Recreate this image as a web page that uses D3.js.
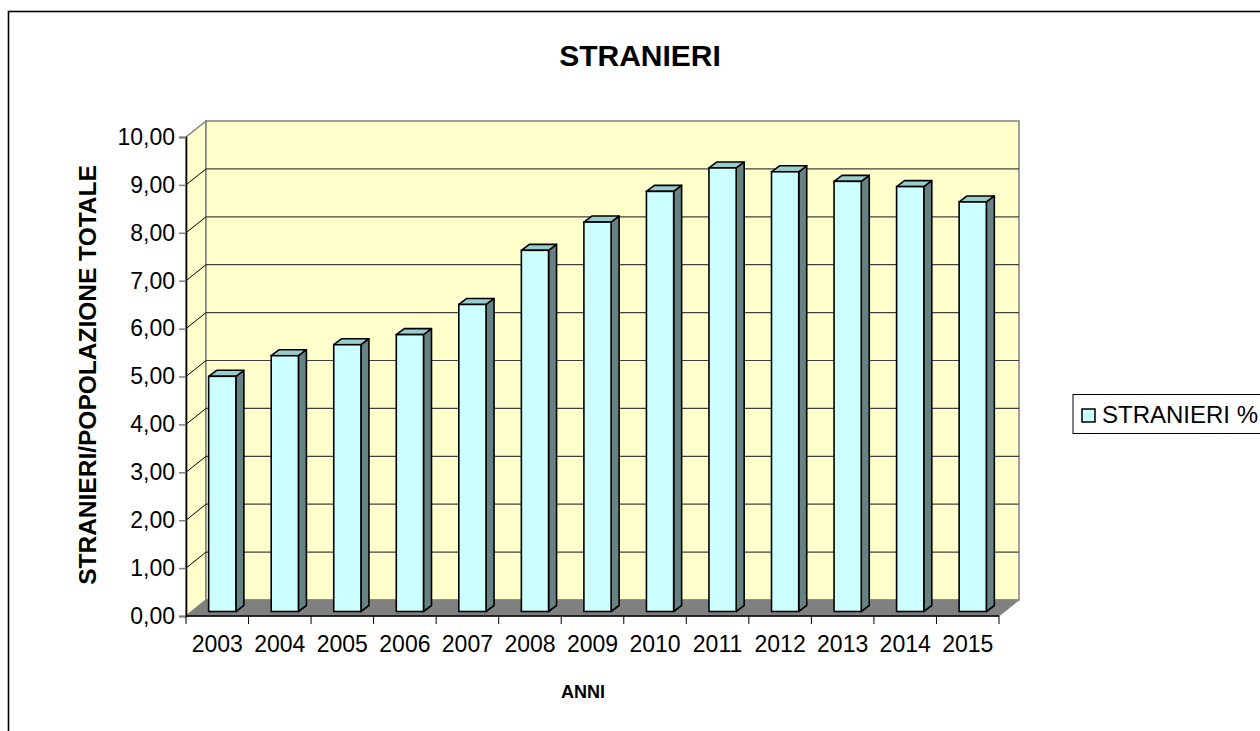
<!DOCTYPE html>
<html>
<head>
<meta charset="utf-8">
<script src="https://cdn.jsdelivr.net/npm/d3@7"></script>
<style>
  body { margin: 0; background: #fff; }
  svg { display: block; font-family: "Liberation Sans", Arial, sans-serif; }
</style>
</head>
<body>
<svg id="chart" width="1260" height="731"></svg>
<script>
// data
var years = ["2003", "2004", "2005", "2006", "2007", "2008", "2009", "2010", "2011", "2012", "2013", "2014", "2015"];
var stranieri = [4.91, 5.34, 5.57, 5.78, 6.41, 7.54, 8.13, 8.77, 9.26, 9.18, 8.98, 8.87, 8.55];
var yTicks = [0, 1, 2, 3, 4, 5, 6, 7, 8, 9, 10];

var svg = d3.select("#chart");

// 3d offsets (wall depth, bar front / back position in depth)
var depth = { dx: 20, dy: -16 };
var barFront = { dx: 5, dy: -4.5 };
var barBack = { dx: 13, dy: -10.5 };

var x = d3.scaleBand().domain(years).range([186, 999]).paddingInner(0.565).paddingOuter(0.2825);
var y = d3.scaleLinear().domain([0, 10]).range([616, 137]);

var it = d3.formatLocale({ decimal: ",", thousands: ".", grouping: [3], currency: ["", "€"] });
var fmt = it.format(".2f");

// outer frame
svg.append("rect")
  .attr("x", 8.5).attr("y", 11.5).attr("width", 1300).attr("height", 800)
  .attr("fill", "none").attr("stroke", "#000").attr("stroke-width", 1.6);

var x0 = x.range()[0], x1 = x.range()[1];
var y0 = y(0), yTop = y(10);

// left wall
svg.append("path")
  .attr("d", "M" + x0 + "," + yTop + "L" + (x0 + depth.dx) + "," + (yTop + depth.dy) +
    "L" + (x0 + depth.dx) + "," + (y0 + depth.dy) + "L" + x0 + "," + y0 + "Z")
  .attr("fill", "#ffffcc").attr("stroke", "#808080").attr("stroke-width", 1.5);

// back wall
svg.append("rect")
  .attr("x", x0 + depth.dx).attr("y", yTop + depth.dy)
  .attr("width", x1 - x0).attr("height", y0 - yTop)
  .attr("fill", "#ffffcc").attr("stroke", "#808080").attr("stroke-width", 1.5);

// floor
svg.append("path")
  .attr("d", "M" + x0 + "," + y0 + "L" + (x0 + depth.dx) + "," + (y0 + depth.dy) +
    "L" + (x1 + depth.dx) + "," + (y0 + depth.dy) + "L" + x1 + "," + y0 + "Z")
  .attr("fill", "#808080").attr("stroke", "#808080").attr("stroke-width", 1);

// gridlines on back and left wall
var grid = svg.append("g");
yTicks.filter(function (t) { return t > 0 && t < 10; }).forEach(function (t) {
  grid.append("line")
    .attr("x1", x0 + depth.dx).attr("x2", x1 + depth.dx)
    .attr("y1", y(t) + depth.dy).attr("y2", y(t) + depth.dy)
    .attr("stroke", "#404040").attr("stroke-width", 1.2);
  grid.append("line")
    .attr("x1", x0).attr("x2", x0 + depth.dx)
    .attr("y1", y(t)).attr("y2", y(t) + depth.dy)
    .attr("stroke", "#000").attr("stroke-width", 1);
});

// bars
var bars = svg.append("g").selectAll("g").data(years).join("g");
bars.each(function (yr, i) {
  var g = d3.select(this);
  var bx = x(yr) + barFront.dx, bw = x.bandwidth();
  var top = y(stranieri[i]) + barFront.dy, bot = y0 + barFront.dy;
  var ddx = barBack.dx - barFront.dx, ddy = barBack.dy - barFront.dy;
  // side
  g.append("path")
    .attr("d", "M" + (bx + bw) + "," + bot + "L" + (bx + bw + ddx) + "," + (bot + ddy) +
      "L" + (bx + bw + ddx) + "," + (top + ddy) + "L" + (bx + bw) + "," + top + "Z")
    .attr("fill", "#678282").attr("stroke", "#000").attr("stroke-width", 1.6).attr("stroke-linejoin", "round");
  // top
  g.append("path")
    .attr("d", "M" + bx + "," + top + "L" + (bx + ddx) + "," + (top + ddy) +
      "L" + (bx + bw + ddx) + "," + (top + ddy) + "L" + (bx + bw) + "," + top + "Z")
    .attr("fill", "#99cccc").attr("stroke", "#000").attr("stroke-width", 1.6).attr("stroke-linejoin", "round");
  // front
  g.append("rect")
    .attr("x", bx).attr("y", top).attr("width", bw).attr("height", bot - top)
    .attr("fill", "#ccffff").attr("stroke", "#000").attr("stroke-width", 1.6);
});

// y axis
var yAxis = svg.append("g")
  .attr("transform", "translate(" + x0 + ",0)")
  .call(d3.axisLeft(y).tickValues(yTicks).tickSize(7).tickPadding(4).tickFormat(fmt));
yAxis.select(".domain").attr("stroke", "#000").attr("stroke-width", 1.6);
yAxis.selectAll(".tick line").attr("stroke", "#808080").attr("stroke-width", 1.5);
yAxis.selectAll("text").attr("font-size", 23).attr("fill", "#000")
  .attr("font-family", "'Liberation Sans', Arial, sans-serif");

// x axis: boundary ticks + centred labels
var xAxis = svg.append("g");
xAxis.append("line")
  .attr("x1", x0).attr("x2", x1).attr("y1", y0).attr("y2", y0)
  .attr("stroke", "#000").attr("stroke-width", 1.6);
d3.range(years.length + 1).forEach(function (i) {
  var tx = x0 + i * x.step();
  xAxis.append("line")
    .attr("x1", tx).attr("x2", tx).attr("y1", y0).attr("y2", y0 + 8)
    .attr("stroke", "#000").attr("stroke-width", 1);
});
xAxis.selectAll("text").data(years).join("text")
  .attr("x", function (d) { return x(d) + x.bandwidth() / 2; })
  .attr("y", y0 + 36)
  .attr("text-anchor", "middle")
  .attr("font-size", 23)
  .text(function (d) { return d; });

// titles
svg.append("text")
  .attr("x", 640).attr("y", 66).attr("text-anchor", "middle")
  .attr("font-size", 30).attr("font-weight", "bold")
  .text("STRANIERI");

svg.append("text")
  .attr("transform", "translate(96,375) rotate(-90)")
  .attr("text-anchor", "middle")
  .attr("font-size", 24.5).attr("font-weight", "bold")
  .text("STRANIERI/POPOLAZIONE TOTALE");

svg.append("text")
  .attr("x", 583).attr("y", 698).attr("text-anchor", "middle")
  .attr("font-size", 18).attr("font-weight", "bold")
  .text("ANNI");

// legend
var legend = svg.append("g");
legend.append("rect")
  .attr("x", 1073).attr("y", 394.5).attr("width", 220).attr("height", 39)
  .attr("fill", "#fff").attr("stroke", "#000").attr("stroke-width", 1);
legend.append("rect")
  .attr("x", 1082).attr("y", 409).attr("width", 13).attr("height", 13)
  .attr("fill", "#ccffff").attr("stroke", "#000").attr("stroke-width", 1.5);
legend.append("text")
  .attr("x", 1102).attr("y", 423)
  .attr("font-size", 24)
  .text("STRANIERI %");
</script>
</body>
</html>
